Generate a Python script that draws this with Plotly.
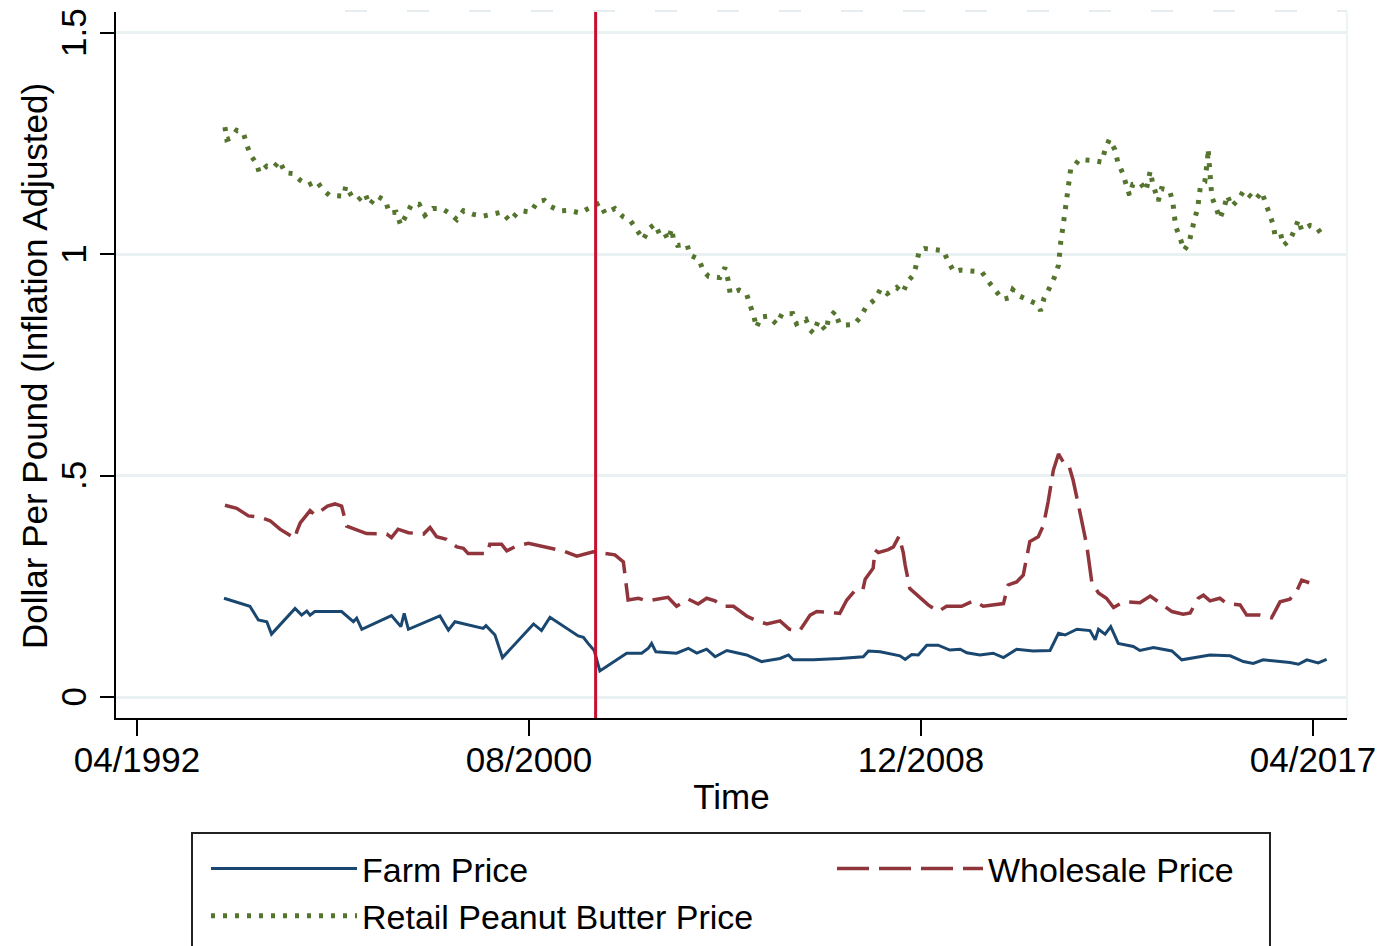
import plotly.graph_objects as go

# ---------------- data (time in decimal years, price in $/lb inflation adjusted) ----------------
farm_time = [1994.10, 1994.65, 1994.83, 1995.01, 1995.11, 1995.61, 1995.75, 1995.86, 1995.93, 1996.03,
             1996.60, 1996.85, 1996.92, 1997.03, 1997.66, 1997.86, 1997.93, 1998.02, 1998.69, 1998.87,
             1999.01, 1999.61, 1999.67, 1999.86, 2000.02, 2000.68, 2000.85, 2001.03, 2001.63, 2001.74,
             2001.84, 2001.97, 2002.09, 2002.66, 2002.98, 2003.12, 2003.19, 2003.28, 2003.72, 2003.97,
             2004.15, 2004.36, 2004.54, 2004.79, 2005.21, 2005.53, 2005.92, 2006.10, 2006.20, 2006.63,
             2007.19, 2007.69, 2007.80, 2008.05, 2008.47, 2008.58, 2008.72, 2008.86, 2009.04, 2009.28,
             2009.53, 2009.75, 2009.89, 2010.17, 2010.45, 2010.67, 2010.95, 2011.30, 2011.66, 2011.84,
             2011.98, 2012.23, 2012.51, 2012.62, 2012.69, 2012.83, 2012.95, 2013.11, 2013.43, 2013.57,
             2013.86, 2014.25, 2014.46, 2014.78, 2015.06, 2015.49, 2015.77, 2015.98, 2016.19, 2016.76,
             2016.94, 2017.12, 2017.36, 2017.54]
farm_price = [0.223, 0.205, 0.174, 0.170, 0.142, 0.200, 0.185, 0.194, 0.185, 0.193,
              0.193, 0.170, 0.178, 0.153, 0.184, 0.159, 0.189, 0.153, 0.183, 0.151,
              0.170, 0.155, 0.161, 0.140, 0.089, 0.165, 0.150, 0.180, 0.138, 0.135,
              0.121, 0.105, 0.059, 0.099, 0.099, 0.110, 0.121, 0.102, 0.099, 0.110,
              0.099, 0.108, 0.091, 0.105, 0.095, 0.080, 0.087, 0.095, 0.084, 0.084,
              0.087, 0.091, 0.104, 0.102, 0.093, 0.085, 0.096, 0.095, 0.117, 0.117,
              0.106, 0.108, 0.100, 0.095, 0.099, 0.089, 0.108, 0.104, 0.105, 0.144,
              0.140, 0.153, 0.150, 0.129, 0.153, 0.142, 0.159, 0.121, 0.114, 0.105,
              0.112, 0.104, 0.084, 0.089, 0.095, 0.093, 0.080, 0.076, 0.084, 0.078,
              0.074, 0.084, 0.077, 0.085]

wholesale_time = [1994.12, 1994.37, 1994.62, 1994.86, 1995.08, 1995.29, 1995.61, 1995.65, 1995.72, 1995.93,
                  1996.03, 1996.30, 1996.46, 1996.60, 1996.71, 1996.92, 1997.13, 1997.56, 1997.66, 1997.80,
                  1998.02, 1998.34, 1998.48, 1998.62, 1998.83, 1999.05, 1999.19, 1999.29, 1999.51, 1999.70,
                  1999.75, 2000.00, 2000.11, 2000.32, 2000.57, 2000.96, 2001.31, 2001.60, 2001.95, 2002.41,
                  2002.59, 2002.69, 2002.91, 2003.09, 2003.54, 2003.72, 2003.97, 2004.18, 2004.36, 2004.54,
                  2004.71, 2004.93, 2005.21, 2005.42, 2005.64, 2005.92, 2006.12, 2006.34, 2006.56, 2006.70,
                  2006.98, 2007.19, 2007.34, 2007.51, 2007.68, 2007.73, 2007.90, 2007.94, 2008.01, 2008.22,
                  2008.33, 2008.45, 2008.54, 2008.58, 2008.68, 2008.90, 2009.07, 2009.28, 2009.46, 2009.78,
                  2010.03, 2010.24, 2010.56, 2010.67, 2010.77, 2010.95, 2011.09, 2011.23, 2011.41, 2011.52,
                  2011.62, 2011.73, 2011.84, 2011.94, 2012.05, 2012.15, 2012.30, 2012.44, 2012.55, 2012.69,
                  2012.86, 2013.01, 2013.22, 2013.57, 2013.79, 2014.00, 2014.25, 2014.49, 2014.64, 2014.81,
                  2014.92, 2015.06, 2015.27, 2015.42, 2015.70, 2015.84, 2016.12, 2016.37, 2016.55, 2016.76,
                  2016.90, 2017.01, 2017.17]
wholesale_price = [0.433, 0.426, 0.409, 0.406, 0.398, 0.379, 0.358, 0.375, 0.393, 0.421,
                   0.411, 0.431, 0.436, 0.431, 0.386, 0.377, 0.369, 0.368, 0.360, 0.379,
                   0.371, 0.368, 0.383, 0.362, 0.356, 0.339, 0.336, 0.324, 0.323, 0.324,
                   0.345, 0.345, 0.330, 0.341, 0.347, 0.339, 0.330, 0.318, 0.328, 0.321,
                   0.305, 0.219, 0.223, 0.217, 0.225, 0.205, 0.221, 0.210, 0.223, 0.217,
                   0.205, 0.205, 0.183, 0.172, 0.165, 0.172, 0.153, 0.150, 0.185, 0.193,
                   0.190, 0.189, 0.219, 0.240, 0.242, 0.266, 0.291, 0.332, 0.326, 0.333,
                   0.339, 0.363, 0.326, 0.298, 0.245, 0.223, 0.208, 0.193, 0.205, 0.205,
                   0.217, 0.205, 0.208, 0.211, 0.253, 0.260, 0.275, 0.351, 0.362, 0.388,
                   0.441, 0.512, 0.549, 0.531, 0.527, 0.490, 0.415, 0.343, 0.258, 0.235,
                   0.223, 0.202, 0.215, 0.213, 0.228, 0.211, 0.193, 0.187, 0.190, 0.223,
                   0.230, 0.217, 0.223, 0.211, 0.208, 0.185, 0.185, 0.179, 0.215, 0.221,
                   0.238, 0.264, 0.258]

retail_time = [1994.12, 1994.16, 1994.26, 1994.37, 1994.51, 1994.58, 1994.65, 1994.79, 1994.85, 1995.01,
               1995.15, 1995.28, 1995.40, 1995.57, 1995.72, 1995.89, 1996.07, 1996.20, 1996.34, 1996.64,
               1996.69, 1996.81, 1996.95, 1997.10, 1997.19, 1997.35, 1997.54, 1997.61, 1997.76, 1997.86,
               1997.98, 1998.09, 1998.25, 1998.37, 1998.54, 1998.73, 1998.90, 1999.05, 1999.19, 1999.40,
               1999.61, 1999.84, 2000.00, 2000.18, 2000.32, 2000.43, 2000.62, 2000.76, 2000.91, 2001.04,
               2001.24, 2001.44, 2001.67, 2001.84, 2002.09, 2002.20, 2002.41, 2002.59, 2002.73, 2002.87,
               2003.01, 2003.14, 2003.26, 2003.37, 2003.47, 2003.54, 2003.62, 2003.65, 2003.74, 2003.94,
               2004.01, 2004.20, 2004.28, 2004.40, 2004.54, 2004.64, 2004.75, 2004.82, 2004.86, 2005.05,
               2005.21, 2005.30, 2005.37, 2005.42, 2005.51, 2005.67, 2005.85, 2005.96, 2006.19, 2006.27,
               2006.47, 2006.56, 2006.63, 2006.73, 2006.83, 2006.90, 2006.95, 2007.09, 2007.18, 2007.30,
               2007.49, 2007.63, 2007.75, 2007.94, 2008.06, 2008.20, 2008.40, 2008.53, 2008.63, 2008.77,
               2008.83, 2008.88, 2008.99, 2009.20, 2009.39, 2009.50, 2009.62, 2009.75, 2009.99, 2010.21,
               2010.33, 2010.49, 2010.65, 2010.81, 2010.87, 2011.02, 2011.20, 2011.39, 2011.46, 2011.53,
               2011.64, 2011.75, 2011.84, 2011.86, 2011.89, 2011.93, 2011.96, 2012.00, 2012.03, 2012.07,
               2012.10, 2012.15, 2012.28, 2012.55, 2012.76, 2012.83, 2012.92, 2013.04, 2013.10, 2013.20,
               2013.27, 2013.35, 2013.42, 2013.59, 2013.70, 2013.79, 2013.84, 2013.91, 2013.96, 2014.03,
               2014.20, 2014.27, 2014.30, 2014.33, 2014.42, 2014.51, 2014.61, 2014.66, 2014.73, 2014.80,
               2014.83, 2014.86, 2014.95, 2014.99, 2015.01, 2015.02, 2015.06, 2015.08, 2015.10, 2015.19,
               2015.27, 2015.36, 2015.43, 2015.52, 2015.66, 2015.78, 2016.02, 2016.16, 2016.23, 2016.32,
               2016.41, 2016.44, 2016.56, 2016.62, 2016.76, 2016.87, 2016.94, 2017.01, 2017.19, 2017.31,
               2017.46]
retail_price = [1.287, 1.259, 1.263, 1.280, 1.274, 1.251, 1.226, 1.205, 1.184, 1.199,
                1.195, 1.211, 1.184, 1.182, 1.167, 1.156, 1.165, 1.146, 1.133, 1.131,
                1.154, 1.132, 1.122, 1.137, 1.111, 1.132, 1.120, 1.093, 1.095, 1.065,
                1.090, 1.113, 1.113, 1.088, 1.103, 1.103, 1.092, 1.078, 1.098, 1.090,
                1.086, 1.090, 1.095, 1.075, 1.092, 1.098, 1.095, 1.118, 1.122, 1.108,
                1.098, 1.099, 1.093, 1.103, 1.116, 1.092, 1.103, 1.084, 1.077, 1.056,
                1.033, 1.058, 1.068, 1.043, 1.047, 1.032, 1.058, 1.035, 1.020, 1.023,
                0.998, 0.988, 0.964, 0.950, 0.947, 0.947, 0.970, 0.940, 0.911, 0.919,
                0.910, 0.883, 0.857, 0.834, 0.858, 0.860, 0.842, 0.865, 0.866, 0.843,
                0.853, 0.829, 0.822, 0.849, 0.834, 0.827, 0.855, 0.871, 0.843, 0.840,
                0.841, 0.858, 0.881, 0.898, 0.922, 0.911, 0.925, 0.913, 0.938, 0.955,
                0.983, 1.008, 1.013, 1.009, 1.008, 0.983, 0.960, 0.964, 0.962, 0.960,
                0.941, 0.920, 0.898, 0.902, 0.920, 0.905, 0.895, 0.887, 0.872, 0.900,
                0.922, 0.947, 0.975, 1.003, 1.030, 1.058, 1.084, 1.113, 1.141, 1.167,
                1.193, 1.195, 1.214, 1.212, 1.208, 1.236, 1.259, 1.236, 1.208, 1.184,
                1.158, 1.133, 1.158, 1.160, 1.143, 1.188, 1.161, 1.131, 1.120, 1.148,
                1.144, 1.118, 1.090, 1.063, 1.038, 1.009, 1.024, 1.053, 1.078, 1.105,
                1.133, 1.156, 1.163, 1.190, 1.216, 1.238, 1.190, 1.158, 1.129, 1.105,
                1.080, 1.105, 1.133, 1.108, 1.123, 1.144, 1.122, 1.141, 1.118, 1.090,
                1.065, 1.043, 1.047, 1.020, 1.032, 1.058, 1.078, 1.054, 1.065, 1.063,
                1.041]

policy_time = 2002.0  # vertical reference line
x_tick_labels = ["04/1992", "08/2000", "12/2008", "04/2017"]
y_tick_vals = [0, 0.5, 1, 1.5]
y_tick_text = ["0", ".5", "1", "1.5"]

# ---------------- figure ----------------
FONT = "Liberation Sans, Arial, sans-serif"
NAVY, MAROON, GREEN = "#1A476F", "#90353B", "#55752F"

def lbl_to_year(s):
    m, y = s.split("/")
    return int(y) + (int(m) - 1) / 12.0

x_tick_vals = [lbl_to_year(s) for s in x_tick_labels]

fig = go.Figure()
fig.add_trace(go.Scatter(x=farm_time, y=farm_price, mode="lines", name="Farm Price",
                         line=dict(color=NAVY, width=3), legend="legend"))
fig.add_trace(go.Scatter(x=wholesale_time, y=wholesale_price, mode="lines", name="Wholesale Price",
                         line=dict(color=MAROON, width=3.5, dash="32px,10px"), legend="legend2"))
fig.add_trace(go.Scatter(x=retail_time, y=retail_price, mode="lines", name="Retail Peanut Butter Price",
                         line=dict(color=GREEN, width=5, dash="4px,8px"), legend="legend"))

W, H = 1386, 946
OFF = 8  # page offset of the figure (body margin)
L, T = 116 - OFF, 12 - OFF
R, B = W - (1347 - OFF), H - (718 - OFF)
pw, ph = W - L - R, H - T - B

def px_x(p):  # page pixel -> paper x
    return (p - OFF - L) / pw

def px_y(p):  # page pixel -> paper y
    return (H - B - (p - OFF)) / ph

fig.add_shape(type="line", xref="x", yref="paper", x0=policy_time, x1=policy_time, y0=0, y1=1,
              line=dict(color="#C8102E", width=3))
# faint plot-region border pieces
fig.add_shape(type="line", xref="paper", yref="paper", x0=1, x1=1, y0=0, y1=1,
              line=dict(color="#EEF3F5", width=2))
fig.add_shape(type="line", xref="paper", yref="paper", x0=px_x(345), x1=1, y0=px_y(11), y1=px_y(11),
              line=dict(color="#E6EDF0", width=2, dash="22px,40px"))
# legend frame
fig.add_shape(type="rect", xref="paper", yref="paper", x0=px_x(192), x1=px_x(1270),
              y0=px_y(833), y1=px_y(990), line=dict(color="#222222", width=2), fillcolor="rgba(0,0,0,0)")

# y axis title placed as rotated text
fig.add_annotation(text="Dollar Per Pound (Inflation Adjusted)", xref="paper", yref="paper",
                   x=px_x(34), y=px_y(366), xanchor="center", yanchor="middle", textangle=-90,
                   showarrow=False, font=dict(family=FONT, size=35, color="black"))

legend_common = dict(orientation="v", xanchor="left", yanchor="top", bgcolor="rgba(0,0,0,0)",
                     borderwidth=0, itemwidth=146, font=dict(family=FONT, size=34, color="black"),
                     tracegroupgap=0)
fig.update_layout(
    width=W, height=H,
    margin=dict(l=L, r=R, t=T, b=B, autoexpand=False),
    paper_bgcolor="white", plot_bgcolor="white",
    font=dict(family=FONT, size=35, color="black"),
    showlegend=True,
    legend=dict(x=px_x(206), y=px_y(840), **legend_common),
    legend2=dict(x=px_x(832), y=px_y(840), **legend_common),
    xaxis=dict(range=[1991.804, 2017.973], tickvals=x_tick_vals, ticktext=x_tick_labels,
               showgrid=False, zeroline=False, showline=True, linecolor="black", linewidth=2,
               ticks="outside", ticklen=16, tickwidth=2, tickcolor="black", ticklabelstandoff=-6,
               ticklabeloverflow="allow",
               tickfont=dict(family=FONT, size=35, color="black"),
               title=dict(text="Time", font=dict(family=FONT, size=35, color="black"), standoff=6)),
    yaxis=dict(range=[-0.0474, 1.547], tickvals=y_tick_vals, ticktext=y_tick_text, tickangle=-90,
               showgrid=True, gridcolor="#EAF1F3", gridwidth=3, zeroline=False,
               showline=True, linecolor="black", linewidth=2,
               ticks="outside", ticklen=14, tickwidth=2, tickcolor="black",
               ticklabeloverflow="allow", ticklabelshift=5,
               tickfont=dict(family=FONT, size=35, color="black")),
)

fig.write_html("out.html")
